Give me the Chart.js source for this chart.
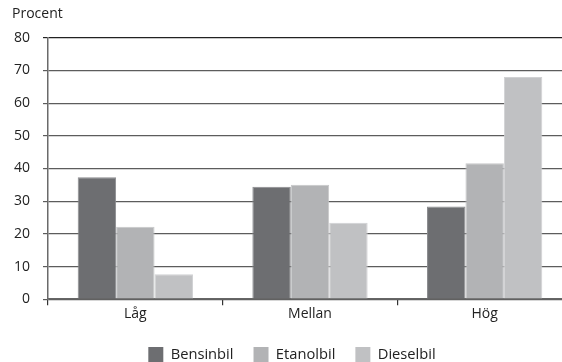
<!DOCTYPE html>
<html>
<head>
<meta charset="utf-8">
<script src="https://cdn.jsdelivr.net/npm/chart.js@4"></script>
<style>
  html, body { margin: 0; padding: 0; background: #fff; overflow: hidden; }
  #wrap { width: 584px; height: 362px; position: relative; }
</style>
</head>
<body>
<div id="wrap"><canvas id="c"></canvas></div>
<script>
// Andel (procent) per kategori och biltyp
const categories = ['Låg', 'Mellan', 'Hög'];
const bensinbil = [37.3, 34.4, 28.4];
const etanolbil = [22.2, 35.0, 41.6];
const dieselbil = [7.6, 23.4, 68.0];
const seriesNames = ['Bensinbil', 'Etanolbil', 'Dieselbil'];
const yTicks = [0, 10, 20, 30, 40, 50, 60, 70, 80];

const FONT = "'Open Sans', 'DejaVu Sans', sans-serif";

new Chart(document.getElementById('c'), {
  type: 'bar',
  data: {
    labels: categories,
    datasets: [
      { label: seriesNames[0], data: bensinbil, backgroundColor: '#6d6e71', borderColor: '#8a8b8e', borderWidth: 1 },
      { label: seriesNames[1], data: etanolbil, backgroundColor: '#b2b3b5', borderColor: '#c6c7c9', borderWidth: 1 },
      { label: seriesNames[2], data: dieselbil, backgroundColor: '#c0c1c3', borderColor: '#d0d1d3', borderWidth: 1 }
    ]
  },
  options: {
    responsive: true,
    maintainAspectRatio: false,
    animation: false,
    layout: { padding: { left: 12, right: 12, top: 0, bottom: -10 } },
    datasets: { bar: { barPercentage: 1.0, categoryPercentage: 0.66 } },
    plugins: {
      title: {
        display: true,
        text: 'Procent',
        align: 'start',
        color: '#222',
        font: { family: FONT, size: 14, weight: 'normal' },
        padding: { top: 6, bottom: 15 }
      },
      legend: {
        position: 'bottom',
        labels: {
          color: '#222',
          font: { family: FONT, size: 14.7 },
          boxWidth: 15,
          boxHeight: 15,
          padding: 20,
          generateLabels(chart) {
            return chart.data.datasets.map((ds, i) => ({
              text: ds.label,
              fillStyle: ds.backgroundColor,
              strokeStyle: ds.backgroundColor,
              lineWidth: 0,
              fontColor: '#222',
              datasetIndex: i,
              hidden: false
            }));
          }
        }
      },
      tooltip: { enabled: false }
    },
    scales: {
      x: {
        afterFit(scale) { scale.height += 5; },
        grid: {
          display: true,
          offset: true,
          drawOnChartArea: false,
          drawTicks: true,
          tickLength: 6,
          color: '#333',
          lineWidth: 1.2
        },
        border: { display: true, color: '#666', width: 1.5 },
        ticks: { color: '#222', font: { family: FONT, size: 14 }, padding: 0 }
      },
      y: {
        min: 0,
        max: 80,
        afterBuildTicks(axis) { axis.ticks = yTicks.map(v => ({ value: v })); },
        afterFit(scale) { scale.width = 36; },
        grid: {
          color: ctx => (ctx.tick && ctx.tick.value === 80 ? '#222' : '#5c5c5c'),
          lineWidth: 1.2,
          drawTicks: true,
          tickLength: 5
        },
        border: { display: true, color: '#6a6a6a', width: 1.5 },
        ticks: { color: '#222', font: { family: FONT, size: 14 }, padding: 13 }
      }
    }
  }
});
</script>
</body>
</html>
